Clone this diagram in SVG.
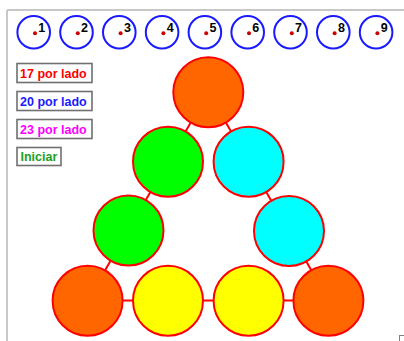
<svg xmlns="http://www.w3.org/2000/svg" width="404" height="341" viewBox="0 0 404 341">
<style>
.pt{fill:none;stroke:#1a1aff;stroke-width:2}
.dot{fill:#cc0000}
.num{font-family:"Liberation Sans",Arial,sans-serif;font-weight:bold;font-size:12.5px;fill:#000}
.btn{fill:#fff;stroke:#707070;stroke-width:1.6}
.bt{font-family:"Liberation Sans",Arial,sans-serif;font-weight:bold;font-size:12.5px}
.big{stroke:#ff0000;stroke-width:2}
.con line{stroke:#ff0000;stroke-width:2}
</style>
<rect width="404" height="341" fill="#fff"/>
<g id="frame" fill="none" stroke="#c8c8c8" stroke-width="2">
<line x1="7" y1="10" x2="404" y2="10"/>
<line x1="7" y1="10" x2="7" y2="341"/>
</g>
<g id="p1"><circle class="pt" cx="33.7" cy="32.3" r="16.3"/><circle class="dot" cx="35" cy="33.3" r="2"/><text class="num" x="38.3" y="31.5">1</text></g>
<g id="p2"><circle class="pt" cx="76.5" cy="32.3" r="16.3"/><circle class="dot" cx="77.8" cy="33.3" r="2"/><text class="num" x="81.1" y="31.5">2</text></g>
<g id="p3"><circle class="pt" cx="119.3" cy="32.3" r="16.3"/><circle class="dot" cx="120.6" cy="33.3" r="2"/><text class="num" x="123.9" y="31.5">3</text></g>
<g id="p4"><circle class="pt" cx="162.1" cy="32.3" r="16.3"/><circle class="dot" cx="163.4" cy="33.3" r="2"/><text class="num" x="166.7" y="31.5">4</text></g>
<g id="p5"><circle class="pt" cx="204.9" cy="32.3" r="16.3"/><circle class="dot" cx="206.2" cy="33.3" r="2"/><text class="num" x="209.5" y="31.5">5</text></g>
<g id="p6"><circle class="pt" cx="247.7" cy="32.3" r="16.3"/><circle class="dot" cx="249" cy="33.3" r="2"/><text class="num" x="252.3" y="31.5">6</text></g>
<g id="p7"><circle class="pt" cx="290.5" cy="32.3" r="16.3"/><circle class="dot" cx="291.8" cy="33.3" r="2"/><text class="num" x="295.1" y="31.5">7</text></g>
<g id="p8"><circle class="pt" cx="333.3" cy="32.3" r="16.3"/><circle class="dot" cx="334.6" cy="33.3" r="2"/><text class="num" x="337.9" y="31.5">8</text></g>
<g id="p9"><circle class="pt" cx="376.1" cy="32.3" r="16.3"/><circle class="dot" cx="377.4" cy="33.3" r="2"/><text class="num" x="380.7" y="31.5">9</text></g>
<g id="b17"><rect class="btn" x="17" y="63.5" width="75" height="19"/><text class="bt" x="20" y="77.5" fill="#ff0000">17 por lado</text></g>
<g id="b20"><rect class="btn" x="17" y="91.5" width="75" height="19"/><text class="bt" x="20" y="105.5" fill="#1a1aff">20 por lado</text></g>
<g id="b23"><rect class="btn" x="17" y="119.5" width="75" height="19"/><text class="bt" x="20" y="133.5" fill="#ff00ff">23 por lado</text></g>
<g id="bini"><rect class="btn" x="17" y="147.5" width="44" height="18"/><text class="bt" x="20.5" y="161" fill="#22a022">Iniciar</text></g>
<g id="connectors" class="con">
<line x1="208.3" y1="92.3" x2="168" y2="161.7"/>
<line x1="208.3" y1="92.3" x2="248.6" y2="161.7"/>
<line x1="168" y1="161.7" x2="127.8" y2="231"/>
<line x1="248.6" y1="161.7" x2="288.9" y2="231"/>
<line x1="127.8" y1="231" x2="87.6" y2="300.6"/>
<line x1="288.9" y1="231" x2="328.5" y2="300.6"/>
<line x1="87.6" y1="300.6" x2="328.5" y2="300.6"/>
</g>
<g id="n1"><circle class="big" cx="208.3" cy="92.3" r="35" fill="#ff6600"/></g>
<g id="n2"><circle class="big" cx="168" cy="161.7" r="35" fill="#00ff00"/></g>
<g id="n3"><circle class="big" cx="248.6" cy="161.7" r="35" fill="#00ffff"/></g>
<g id="n4"><circle class="big" cx="128.5" cy="230.5" r="35" fill="#00ff00"/></g>
<g id="n5"><circle class="big" cx="289" cy="231" r="35" fill="#00ffff"/></g>
<g id="n6"><circle class="big" cx="87.6" cy="300.8" r="35" fill="#ff6600"/></g>
<g id="n7"><circle class="big" cx="168" cy="300.8" r="35" fill="#ffff00"/></g>
<g id="n8"><circle class="big" cx="248.6" cy="300.8" r="35" fill="#ffff00"/></g>
<g id="n9"><circle class="big" cx="328.4" cy="300.8" r="35" fill="#ff6600"/></g>
<g id="icon"><rect x="399.5" y="335.5" width="6" height="6" fill="none" stroke="#808080" stroke-width="1"/></g>
</svg>
